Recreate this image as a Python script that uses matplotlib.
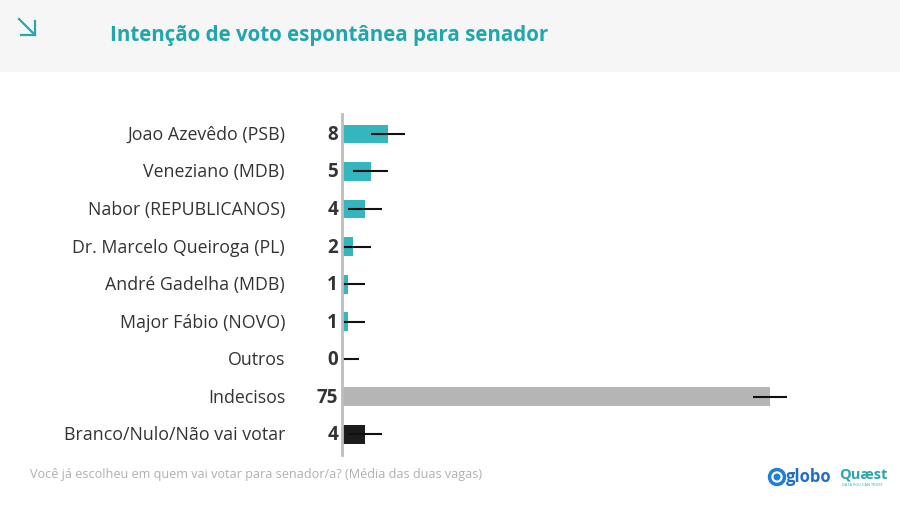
import numpy as np
import matplotlib
matplotlib.use("Agg")
import matplotlib.pyplot as plt
from matplotlib.patches import Circle

plt.rcParams['font.family'] = ['Open Sans', 'DejaVu Sans']

# dados da pesquisa
candidatos = ['Joao Azevêdo (PSB)', 'Veneziano (MDB)', 'Nabor (REPUBLICANOS)',
              'Dr. Marcelo Queiroga (PL)', 'André Gadelha (MDB)', 'Major Fábio (NOVO)',
              'Outros', 'Indecisos', 'Branco/Nulo/Não vai votar']
percentuais = [8, 5, 4, 2, 1, 1, 0, 75, 4]
margem = [3, 3, 3, 3, 3, 3, 3, 3, 3]
cores = ['#35b5bd'] * 7 + ['#b5b5b5', '#1c1c1c']

titulo = 'Intenção de voto espontânea para senador'
rodape = 'Você já escolheu em quem vai votar para senador/a? (Média das duas vagas)'

fig = plt.figure(figsize=(9, 5.06), dpi=100)
W, H = 900, 506

# faixa do cabeçalho
fundo = fig.add_axes([0, 1 - 73 / H, 1, 73 / H])
fundo.set_facecolor('#f6f6f6')
fundo.set_xlim(0, 900)
fundo.set_ylim(73, 0)
fundo.set_xticks([])
fundo.set_yticks([])
for s in fundo.spines.values():
    s.set_visible(False)
fundo.plot([19, 35], [20, 36], color='#2aa6ad', lw=1.6)
fundo.plot([21, 35, 35], [36, 36, 22], color='#2aa6ad', lw=1.6)
fundo.text(110, 36, titulo, color='#20a6ab', fontsize=14.8, fontweight='bold',
           va='center', ha='left')

# grafico de barras
x0, x1 = 342, 842
y0, y1 = 115, 456
ax = fig.add_axes([x0 / W, 1 - y1 / H, (x1 - x0) / W, (y1 - y0) / H])
y = np.arange(len(candidatos))
ax.barh(y, percentuais, height=0.5, color=cores)
xerr_low = [min(p, m) for p, m in zip(percentuais, margem)]
ax.errorbar(percentuais, y, xerr=[xerr_low, margem], fmt='none', ecolor='#111111',
            elinewidth=1.5, capsize=0)
escala = 75 / (770 - 342)
ax.set_xlim(0, (x1 - x0) * escala)
ax.set_ylim(len(candidatos) - 0.45, -0.53)
ax.set_xticks([])
ax.set_yticks([])
for s in ['top', 'right', 'bottom']:
    ax.spines[s].set_visible(False)
ax.spines['left'].set_color('#bdbdbd')
ax.spines['left'].set_linewidth(2)

for i, (nome, v) in enumerate(zip(candidatos, percentuais)):
    ax.text(-57 * escala, i, nome, ha='right', va='center', fontsize=12.8, color='#333333')
    ax.text(-4 * escala, i, str(v), ha='right', va='center', fontsize=13.5,
            fontweight='bold', color='#333333')

# rodape
fig.text(30 / W, 1 - 475 / H, rodape, fontsize=9.1, color='#b0b0b0', va='center')

logo = fig.add_axes([0, 0, 1, 1], facecolor='none')
logo.set_xlim(0, W)
logo.set_ylim(H, 0)
logo.axis('off')
logo.add_patch(Circle((777, 478), 8.5, color='#1f7fd6'))
logo.add_patch(Circle((777, 478), 5, color='white'))
logo.add_patch(Circle((777, 478), 2.8, color='#1f7fd6'))
logo.text(786, 477, 'globo', fontsize=12, fontweight='bold', color='#1f6fc8', va='center')
logo.text(839, 475, 'Quæst', fontsize=10.5, fontweight='bold', color='#2aa6ad', va='center')
logo.text(842, 485, 'DATA YOU CAN TRUST', fontsize=2.8, color='#2aa6ad', va='center')

fig.savefig('out.png', dpi=100)
